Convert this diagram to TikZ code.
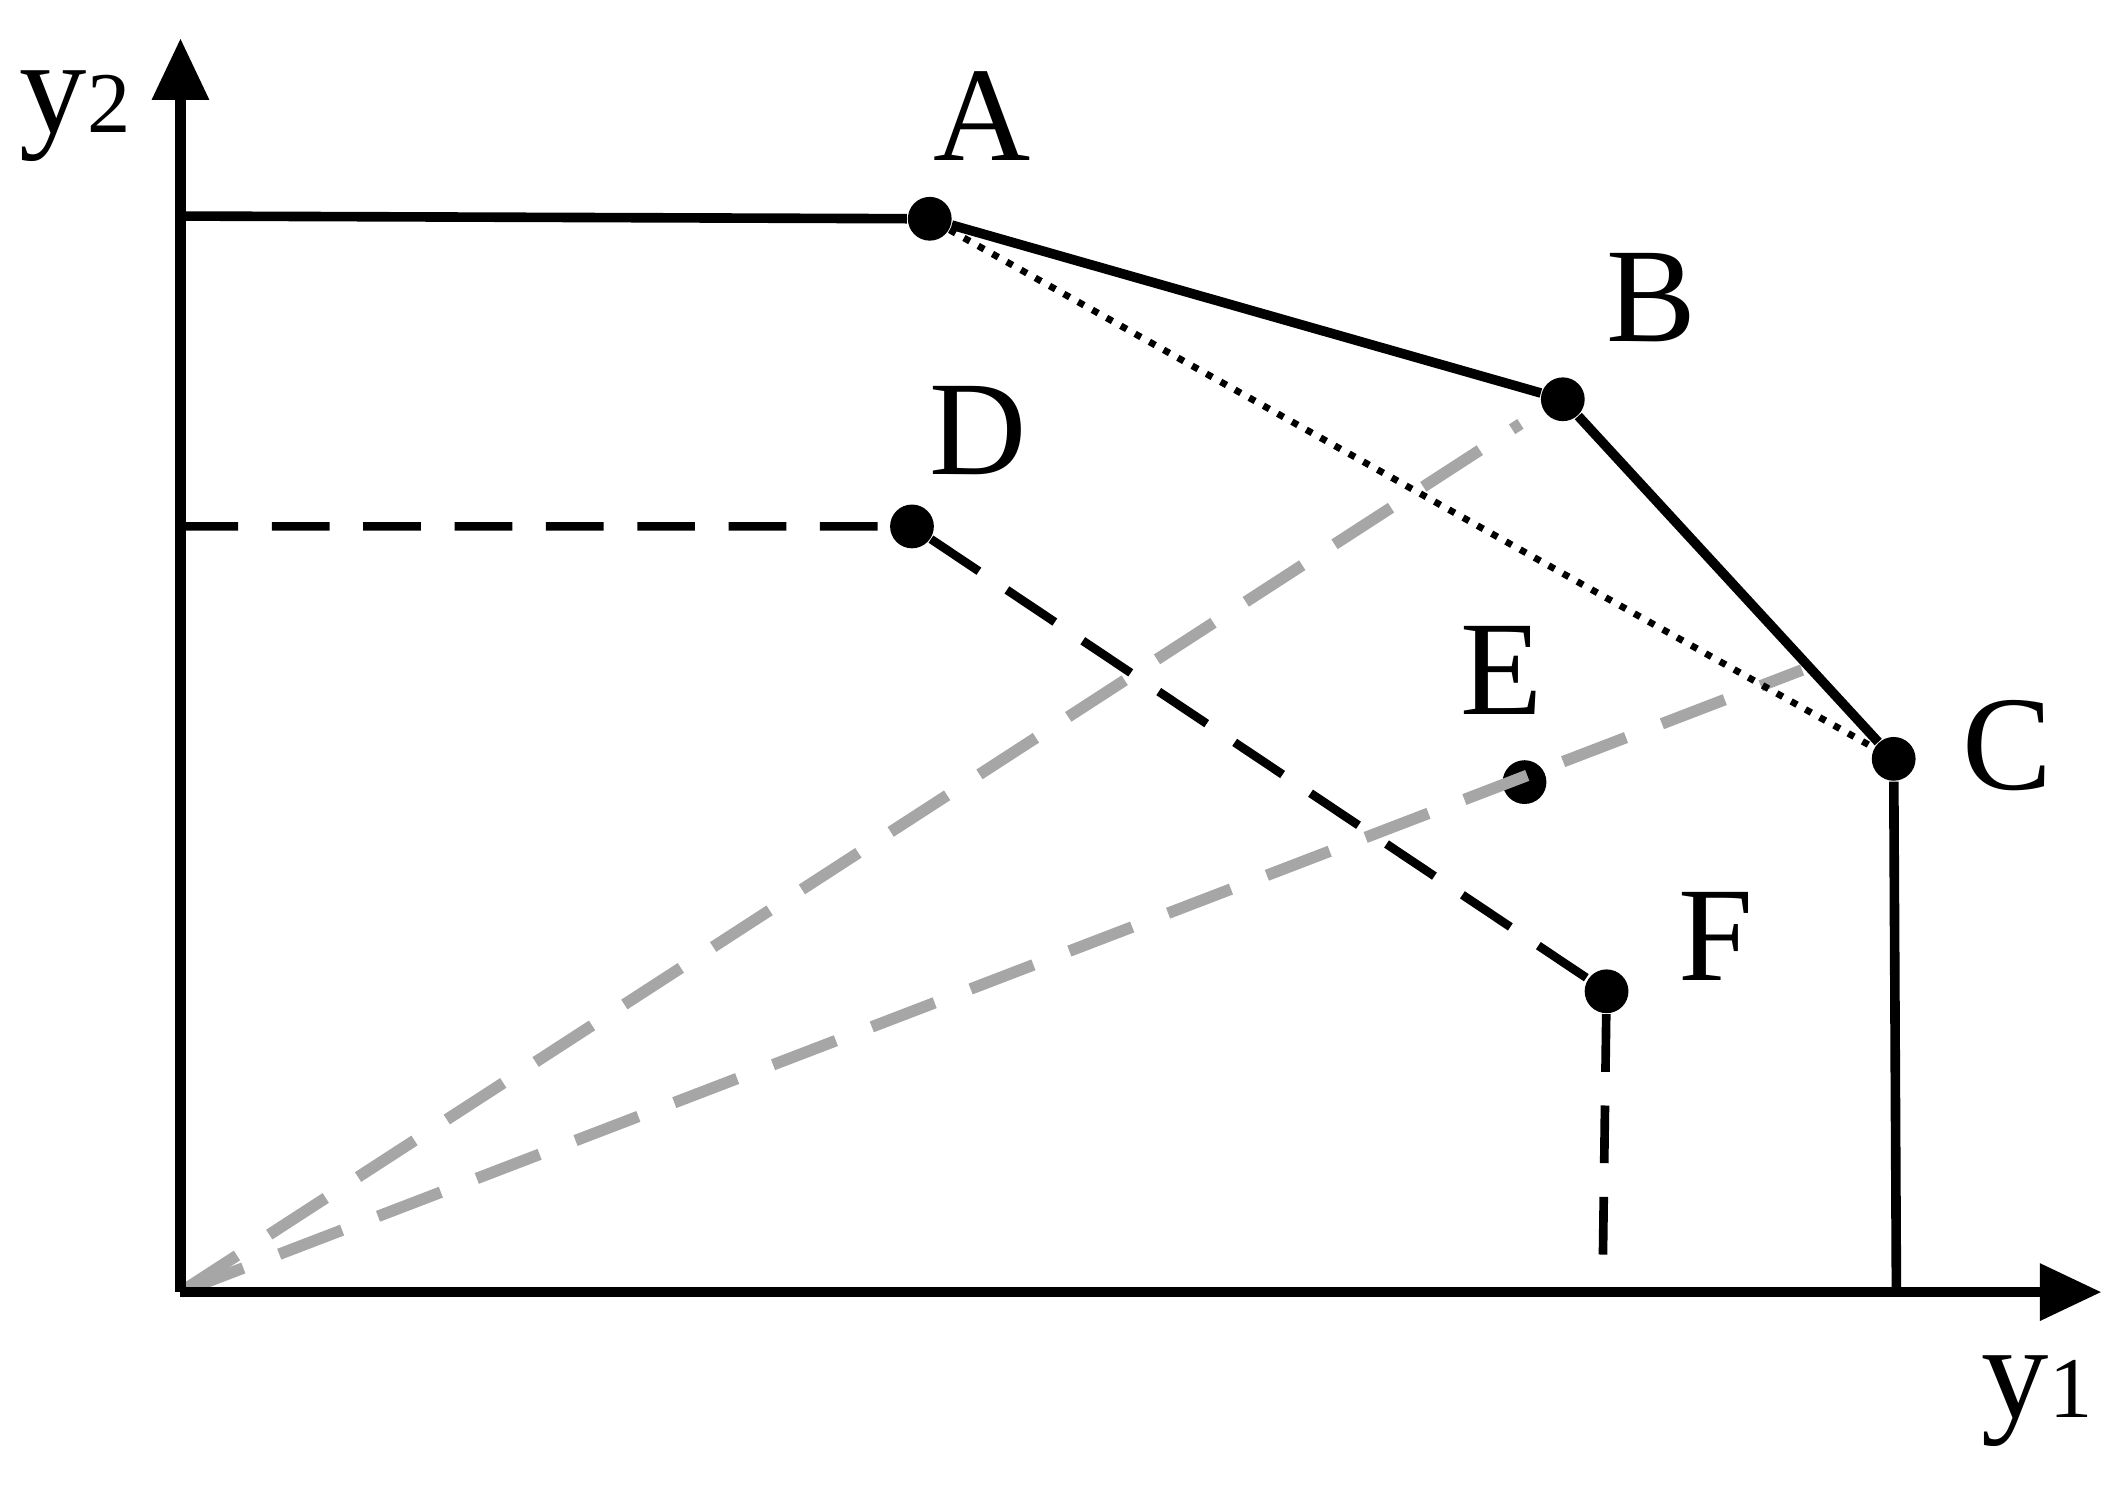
\documentclass[tikz,border=0pt]{standalone}
\usepackage{fontspec}
\setmainfont{Liberation Serif}
\usetikzlibrary{arrows.meta}
\begin{document}
\begin{tikzpicture}[x=0.01cm,y=-0.01cm,
  pt/.style={circle,fill=black,inner sep=0pt,minimum size=0.32cm},
  lab/.style={font=\fontsize{28}{30}\selectfont},
  solidline/.style={line width=2pt},
  blackdash/.style={line width=1.8pt,dash pattern=on 12pt off 7pt},
  graydash/.style={line width=2.4pt,gray!70,dash pattern=on 14pt off 8pt},
  axis/.style={line width=2.2pt,-{Triangle[length=0.45cm,width=0.4cm]}}]
\useasboundingbox (0,0) rectangle (1552,1096);
\coordinate (O) at (132,945);
\coordinate (Ytip) at (132,28);
\coordinate (Xtip) at (1537,945);
\coordinate (Ytop) at (132,158);
\coordinate (Yd) at (132,385);
\coordinate (Fx) at (1172,945);
\coordinate (Cx) at (1387,945);
\coordinate (Bg) at (1112,310);
\coordinate (Eg) at (1318,490);
\node[pt] (A) at (680,160) {};
\node[pt] (B) at (1143,292) {};
\node[pt] (C) at (1385,555) {};
\node[pt] (D) at (667,385) {};
\node[pt] (E) at (1115,572) {};
\node[pt] (F) at (1175,725) {};
\draw[graydash] (O) -- (Bg);
\draw[graydash] (O) -- (Eg);
\draw[axis] (O) -- (Ytip);
\draw[axis] (O) -- (Xtip);
\draw[solidline] (Ytop) -- (A) -- (B) -- (C) -- (Cx);
\draw[line width=1.4pt,dotted] (A) -- (C);
\draw[blackdash] (Yd) -- (D) -- (F) -- (Fx);
\node[lab] (ly2) at (55,85) {y{\fontsize{18}{20}\selectfont 2}};
\node[lab] (ly1) at (1490,1025) {y{\fontsize{18}{20}\selectfont 1}};
\node[lab] (lA) at (718,85) {A};
\node[lab] (lB) at (1208,218) {B};
\node[lab] (lC) at (1468,545) {C};
\node[lab] (lD) at (715,315) {D};
\node[lab] (lE) at (1098,490) {E};
\node[lab] (lF) at (1255,685) {F};
\end{tikzpicture}
\end{document}
